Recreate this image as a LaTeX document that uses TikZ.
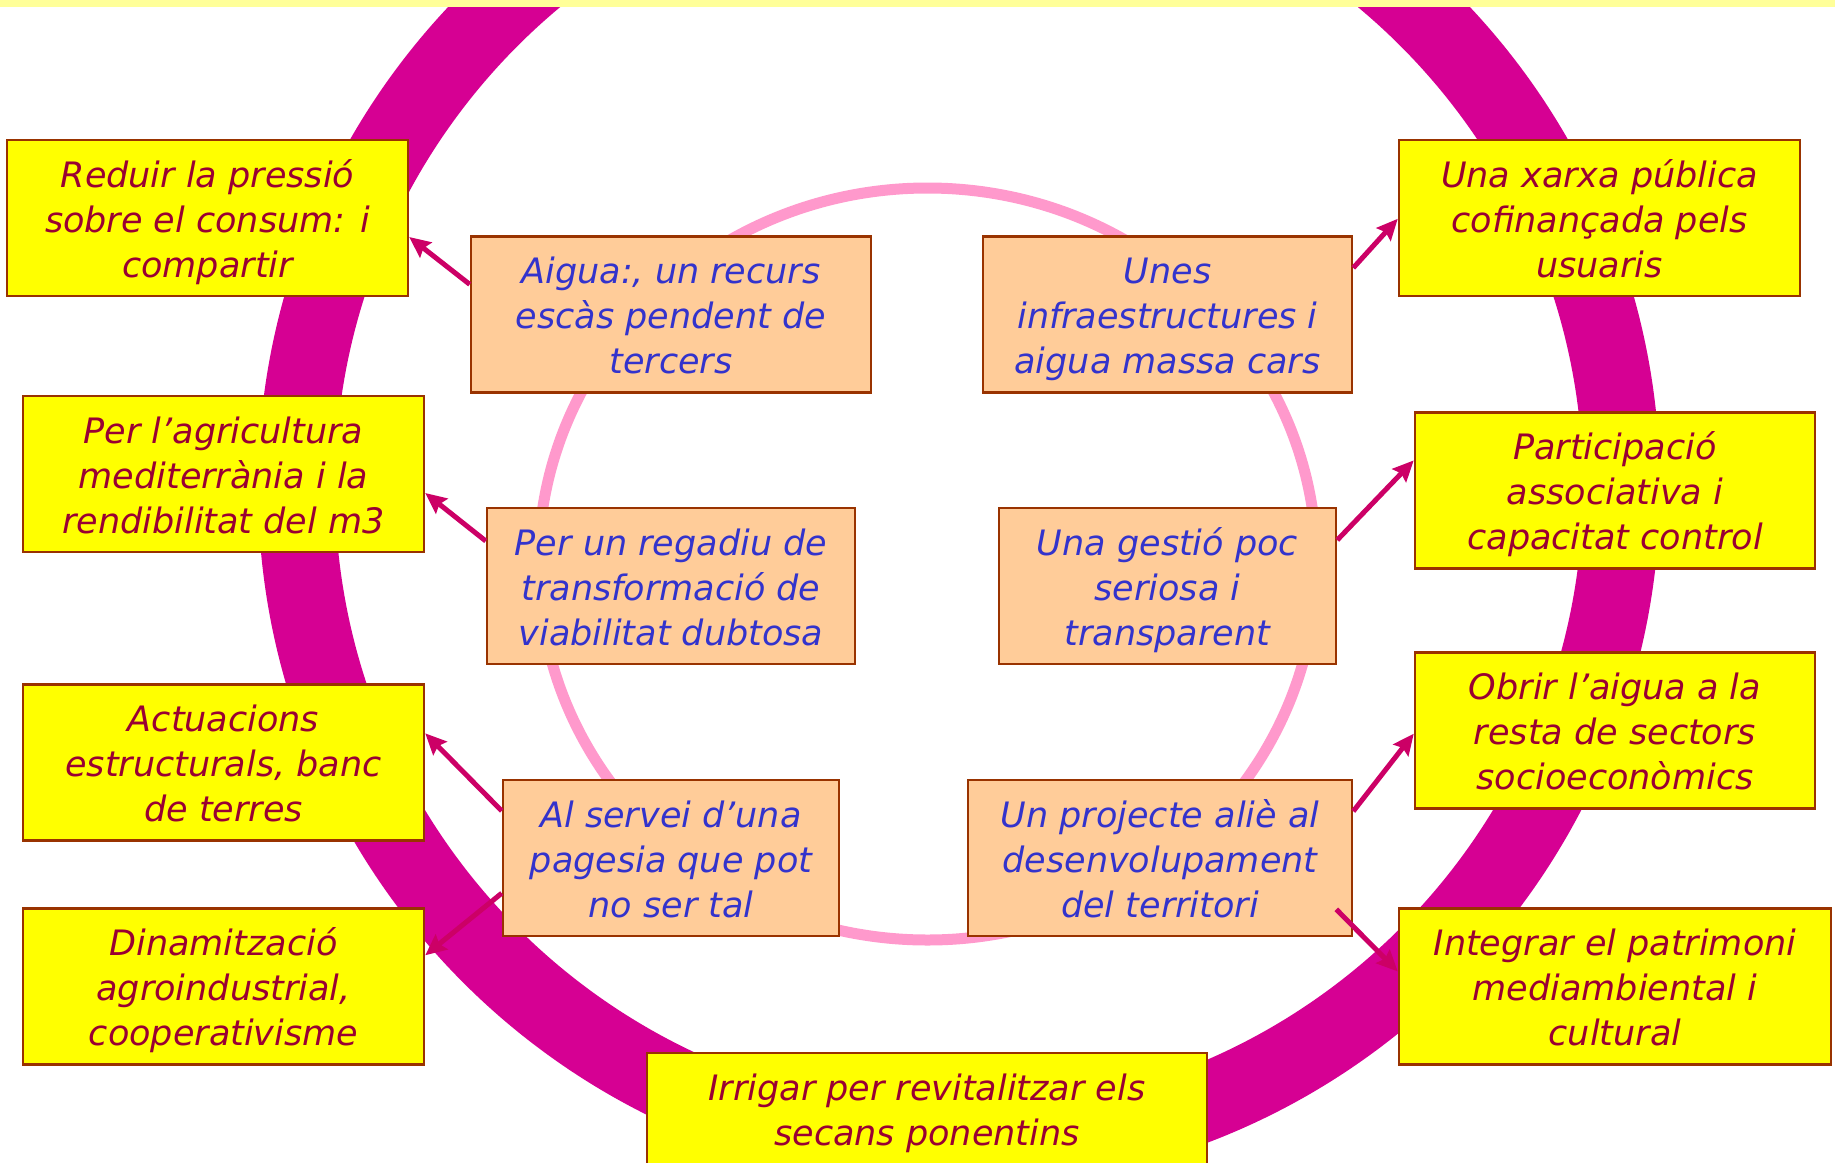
\documentclass[tikz,border=0pt]{standalone}
\usepackage{fontspec}
\setmainfont{DejaVu Sans}
\usetikzlibrary{calc,arrows.meta}
\definecolor{ringc}{RGB}{214,0,147}
\definecolor{pinkc}{RGB}{255,153,204}
\definecolor{boxedge}{RGB}{153,51,0}
\definecolor{yfill}{RGB}{255,255,0}
\definecolor{ofill}{RGB}{255,204,153}
\definecolor{ytext}{RGB}{153,0,51}
\definecolor{otext}{RGB}{51,51,204}
\definecolor{arrc}{RGB}{204,0,102}
\definecolor{stripec}{RGB}{255,255,153}
\newcommand{\bx}[3]{\rule{0pt}{47pt}#1\\#2\\#3\rule[-19pt]{0pt}{19pt}}
\tikzset{
  boxbase/.style={draw=boxedge, line width=2.5pt, align=center, inner sep=0pt,
    minimum height=156pt, font=\itshape\fontsize{35}{45}\selectfont},
  ybox/.style={boxbase, fill=yfill, text=ytext},
  obox/.style={boxbase, fill=ofill, text=otext},
  arr/.style={draw=arrc, line width=5pt, -{Stealth[length=21pt,width=19pt,inset=3pt]}}
}
\begin{document}
\begin{tikzpicture}[x=1pt,y=-1pt]
\path[use as bounding box] (0,0) rectangle (1835,1162);
\clip (0,0) rectangle (1835,1162);
\fill[white] (0,0) rectangle (1835,1162);
% big ring
\draw[ringc, line width=77pt] (959,487) circle[radius=662.5];
% inner pink ellipse
\draw[pinkc, line width=11pt] (927.5,564) ellipse[x radius=389, y radius=376];
% left yellow boxes
\node[ybox, minimum width=401pt] (y1) at (207.5,218) {\bx{Reduir la pressió}{sobre el consum: i}{compartir}};
\node[ybox, minimum width=401pt] (y2) at (223.5,474) {\bx{Per l’agricultura}{mediterrània i la}{rendibilitat del m3}};
\node[ybox, minimum width=401pt] (y3) at (223.5,762.5) {\bx{Actuacions}{estructurals, banc}{de terres}};
\node[ybox, minimum width=401pt] (y4) at (223.5,986.5) {\bx{Dinamització}{agroindustrial,}{cooperativisme}};
% right yellow boxes
\node[ybox, minimum width=401pt] (y5) at (1599.5,218) {\bx{Una xarxa pública}{cofinançada pels}{usuaris}};
\node[ybox, minimum width=400pt] (y6) at (1615,490.5) {\bx{Participació}{associativa i}{capacitat control}};
\node[ybox, minimum width=400pt] (y7) at (1615,730.5) {\bx{Obrir l’aigua a la}{resta de sectors}{socioeconòmics}};
\node[ybox, minimum width=432pt] (y8) at (1615,986.5) {\bx{Integrar el patrimoni}{mediambiental i}{cultural}};
% bottom box
\node[ybox, minimum width=560pt] (yb) at (927,1131) {\bx{Irrigar per revitalitzar els}{secans ponentins}{}};
% orange boxes
\node[obox, minimum width=400pt] (A) at (671,314.5) {\bx{Aigua:, un recurs}{escàs pendent de}{tercers}};
\node[obox, minimum width=369pt] (B) at (1167.5,314.5) {\bx{Unes}{infraestructures i}{aigua massa cars}};
\node[obox, minimum width=368pt] (C) at (671,586) {\bx{Per un regadiu de}{transformació de}{viabilitat dubtosa}};
\node[obox, minimum width=337pt] (D) at (1167.5,586) {\bx{Una gestió poc}{seriosa i}{transparent}};
\node[obox, minimum width=336pt] (E) at (671,858) {\bx{Al servei d’una}{pagesia que pot}{no ser tal}};
\node[obox, minimum width=384pt] (F) at (1160,858) {\bx{Un projecte aliè al}{desenvolupament}{del territori}};
% arrows
\draw[arr] ($(A.north west)!0.31!(A.south west)$) -- ($(y1.north east)!0.62!(y1.south east)$);
\draw[arr] ($(C.north west)!0.216!(C.south west)$) -- ($(y2.north east)!0.62!(y2.south east)$);
\draw[arr] ($(E.north west)!0.203!(E.south west)$) -- ($(y3.north east)!0.316!(y3.south east)$);
\draw[arr] ($(E.north west)!0.722!(E.south west)$) -- ($(y4.north east)!0.303!(y4.south east)$);
\draw[arr] ($(B.north east)!0.206!(B.south east)$) -- ($(y5.north west)!0.505!(y5.south west)$);
\draw[arr] ($(D.north east)!0.21!(D.south east)$) -- ($(y6.north west)!0.31!(y6.south west)$);
\draw[arr] ($(F.north east)!0.205!(F.south east)$) -- ($(y7.north west)!0.52!(y7.south west)$);
\draw[arr] ($(F.south east)+(-17,-28)$) -- ($(y8.north west)!0.405!(y8.south west)$);
% top stripe
\fill[stripec] (0,0) rectangle (1835,7);
\end{tikzpicture}
\end{document}
